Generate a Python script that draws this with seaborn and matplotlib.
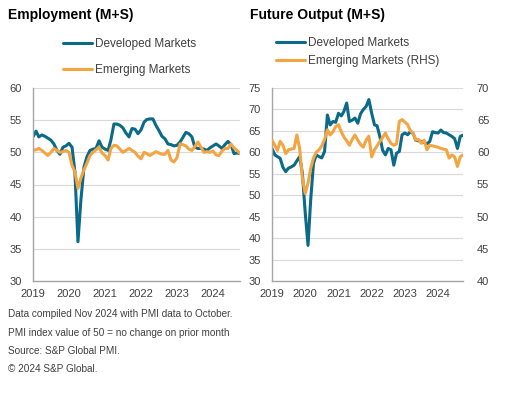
import pandas as pd
import seaborn as sns
import matplotlib.pyplot as plt
import matplotlib.dates as mdates
from matplotlib.lines import Line2D

# monthly PMI readings, Jan 2019 - Oct 2024
months = pd.date_range('2019-01-01', periods=70, freq='MS')

emp_dm = [52.4, 53.3, 52.4, 52.7, 52.5, 52.2, 51.9, 51.3, 50.3, 49.7,
          50.8, 51.0, 51.4, 50.8, 47.0, 36.1, 42.6, 47.7, 49.3, 50.3,
          50.5, 50.6, 51.8, 50.8, 50.5, 50.3, 51.9, 54.4, 54.4, 54.2,
          53.8, 53.0, 52.4, 53.7, 53.6, 52.9, 53.5, 54.7, 55.1, 55.2,
          55.2, 54.2, 53.4, 52.5, 52.1, 51.3, 51.2, 51.0, 51.1, 51.6,
          52.3, 53.1, 52.9, 52.4, 50.8, 50.6, 50.6, 50.5, 50.3, 50.7,
          51.0, 51.3, 51.0, 50.6, 51.2, 51.7, 51.2, 49.8, 49.9, 49.8]
emp_em = [50.3, 50.4, 50.6, 50.3, 49.9, 49.5, 50.0, 50.6, 50.3, 50.0,
          50.1, 50.3, 50.0, 48.0, 47.0, 44.4, 46.0, 47.3, 48.3, 49.5,
          50.0, 50.4, 50.8, 49.9, 49.5, 48.8, 50.6, 51.1, 51.0, 50.5,
          50.0, 50.3, 50.6, 50.3, 50.0, 49.4, 49.0, 50.0, 49.8, 49.5,
          49.8, 50.1, 49.9, 49.7, 49.7, 50.3, 48.8, 48.5, 49.2, 51.3,
          51.2, 51.0, 50.5, 50.3, 50.9, 51.6, 50.8, 50.0, 50.1, 50.0,
          50.2, 49.6, 49.5, 50.2, 50.6, 50.6, 51.3, 50.7, 50.3, 49.8]
fut_dm = [60.9, 59.4, 59.0, 58.6, 56.5, 55.5, 56.3, 56.6, 57.0, 58.0,
          59.0, 55.1, 46.0, 38.3, 48.8, 57.4, 59.4, 59.0, 58.7, 60.2,
          68.7, 66.4, 67.2, 67.0, 69.1, 68.5, 69.5, 71.5, 67.2, 67.5,
          68.0, 66.8, 69.0, 70.0, 70.7, 72.3, 69.1, 66.4, 66.2, 63.7,
          60.5, 59.4, 60.9, 60.6, 57.0, 59.8, 60.2, 64.1, 64.5, 64.1,
          64.8, 64.4, 62.8, 62.7, 62.5, 62.3, 62.0, 62.5, 64.8, 64.6,
          64.5, 65.2, 64.6, 64.5, 64.1, 63.7, 63.2, 60.9, 63.7, 64.0]
fut_em = [61.9, 61.1, 60.3, 61.7, 61.1, 59.8, 60.4, 60.5, 60.6, 62.7,
          60.6, 56.0, 53.6, 55.2, 57.5, 59.1, 60.0, 60.4, 61.0, 62.0,
          63.5, 62.7, 63.2, 64.0, 64.3, 63.2, 62.4, 61.8, 61.1, 62.0,
          62.7, 61.9, 61.2, 60.8, 61.9, 62.5, 59.3, 60.4, 61.0, 61.7,
          62.3, 63.0, 62.1, 61.4, 61.1, 61.3, 64.8, 65.1, 64.7, 64.3,
          63.4, 63.0, 61.9, 62.0, 61.4, 61.9, 60.4, 61.1, 61.0, 60.9,
          60.8, 60.6, 60.5, 60.4, 59.1, 59.6, 59.3, 57.8, 59.3, 59.6]

df = pd.DataFrame({'date': months, 'emp_dm': emp_dm, 'emp_em': emp_em,
                   'fut_dm': fut_dm, 'fut_em': fut_em})

teal = '#0b6a88'
orange = '#f2a541'
grid_c = '#d9d9d9'
spine_c = '#a6a6a6'
txt_c = '#404040'

sns.set_style('white')
plt.rcParams['font.family'] = ['Liberation Sans', 'DejaVu Sans']

fig = plt.figure(figsize=(5.12, 3.93), dpi=100)
ax1 = fig.add_axes([33/512, 1-281/393, 207/512, 193/393])
ax2 = fig.add_axes([272/512, 1-281/393, 191/512, 193/393])
ax3 = ax2.twinx()

sns.lineplot(x='date', y='emp_dm', data=df, ax=ax1, color=teal, lw=2.2)
sns.lineplot(x='date', y='emp_em', data=df, ax=ax1, color=orange, lw=2.2)
sns.lineplot(x='date', y='fut_dm', data=df, ax=ax2, color=teal, lw=2.2)
sns.lineplot(x='date', y='fut_em', data=df, ax=ax3, color=orange, lw=2.2)

def style(ax, lo, hi, grid=True):
    ax.set_ylim(lo, hi)
    ax.set_yticks(range(lo, hi + 1, 5))
    ax.set_xlim(months[0], months[-1])
    ax.set_xlabel('')
    ax.set_ylabel('')
    ax.xaxis.set_major_locator(mdates.YearLocator())
    ax.xaxis.set_major_formatter(mdates.DateFormatter('%Y'))
    ax.tick_params(length=0, labelsize=8, colors=txt_c, pad=8)
    ax.tick_params(axis='x', pad=6)
    if grid:
        ax.grid(axis='y', color=grid_c, lw=0.8)
    for s in ['top', 'right']:
        ax.spines[s].set_visible(False)
    for s in ['left', 'bottom']:
        ax.spines[s].set_color(spine_c)
        ax.spines[s].set_linewidth(1)

style(ax1, 30, 60)
style(ax2, 30, 75)
ax3.set_ylim(40, 70)
ax3.set_yticks(range(40, 71, 5))
ax3.set_ylabel('')
ax3.tick_params(length=0, labelsize=8, colors=txt_c, pad=10)
for s in ['top', 'right', 'left', 'bottom']:
    ax3.spines[s].set_visible(False)

fig.text(8/512, 1-15/393, 'Employment (M+S)', fontsize=10, fontweight='bold', va='center', color='#000000')
fig.text(250/512, 1-15/393, 'Future Output (M+S)', fontsize=10, fontweight='bold', va='center', color='#000000')

h_dm = Line2D([], [], color=teal, lw=2.2)
h_em = Line2D([], [], color=orange, lw=2.2)
fig.legend([h_dm, h_em], ['Developed Markets', 'Emerging Markets'],
           loc='upper left', bbox_to_anchor=(63/512, 1-38/393), frameon=False,
           fontsize=8.5, handlelength=2.45, handletextpad=0.25, labelspacing=1.2,
           borderpad=0, borderaxespad=0, labelcolor=txt_c)
fig.legend([h_dm, h_em], ['Developed Markets', 'Emerging Markets (RHS)'],
           loc='upper left', bbox_to_anchor=(276/512, 1-37/393), frameon=False,
           fontsize=8.5, handlelength=2.45, handletextpad=0.25, labelspacing=0.5,
           borderpad=0, borderaxespad=0, labelcolor=txt_c)

notes = ['Data compiled Nov 2024 with PMI data to October.',
         'PMI index value of 50 = no change on prior month',
         'Source: S&P Global PMI.',
         '\u00a9 2024 S&P Global.']
for i, n in enumerate(notes):
    fig.text(8/512, 1-(314 + i*18.5)/393, n, fontsize=7.2, va='center', color=txt_c)

plt.savefig('out.png', dpi=100)
